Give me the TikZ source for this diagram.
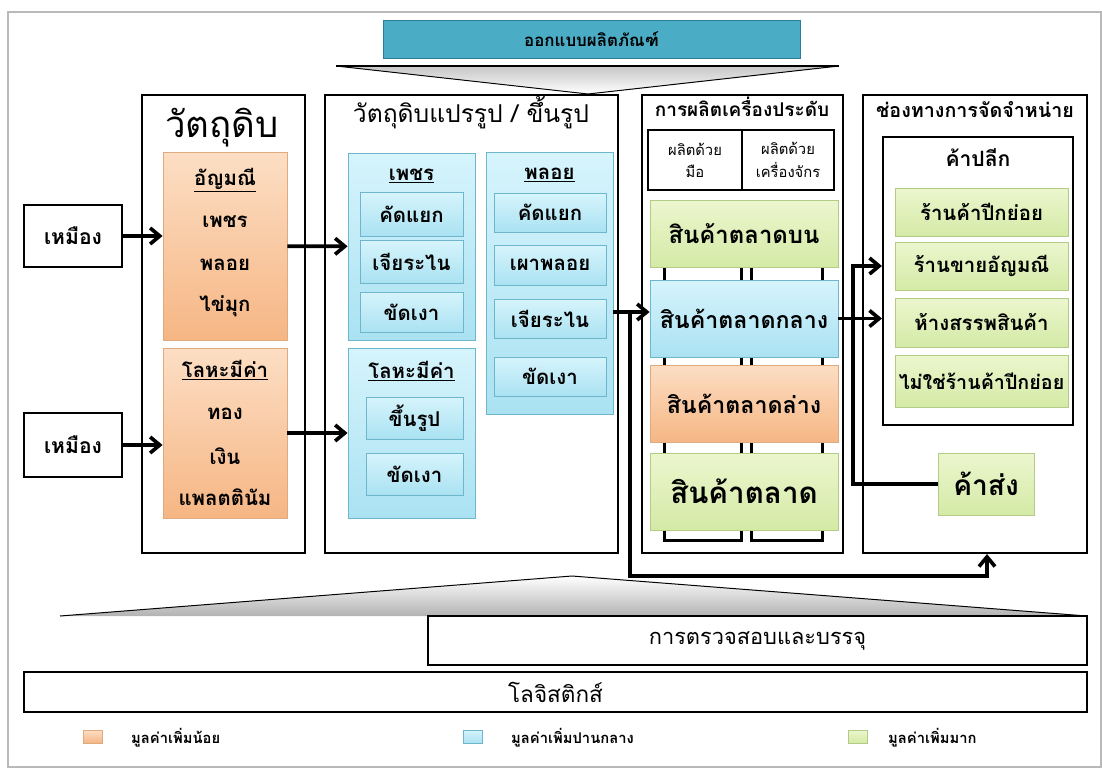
\documentclass[tikz,border=0pt]{standalone}
\usepackage{fontspec}
\setmainfont[Script=Thai]{Loma}
\usetikzlibrary{arrows.meta, calc, backgrounds}

\definecolor{tealfill}{RGB}{75,172,198}
\definecolor{tealline}{RGB}{45,125,150}
\definecolor{orgtop}{RGB}{252,222,196}
\definecolor{orgbot}{RGB}{246,182,132}
\definecolor{orgline}{RGB}{222,170,128}
\definecolor{blutop}{RGB}{214,244,252}
\definecolor{blubot}{RGB}{170,226,242}
\definecolor{bluline}{RGB}{110,182,204}
\definecolor{grntop}{RGB}{236,246,206}
\definecolor{grnbot}{RGB}{212,234,166}
\definecolor{grnline}{RGB}{178,204,136}

\newcommand{\fs}[1]{\fontsize{#1}{#1}\selectfont}

\begin{document}
\begin{tikzpicture}[x=0.025cm, y=-0.025cm, >={Straight Barb[length=2.4mm, width=4mm]}, line width=0.7pt,
  sz/.style 2 args={minimum width=#1*0.025cm, minimum height=#2*0.025cm, inner sep=0pt},
  col/.style={draw, line width=1.5pt},
  plain/.style={draw, line width=1.5pt, fill=white, font=\bfseries\fs{15}},
  org/.style={draw=orgline, top color=orgtop, bottom color=orgbot, line width=0.6pt},
  blu/.style={draw=bluline, top color=blutop, bottom color=blubot, line width=0.6pt},
  grn/.style={draw=grnline, top color=grntop, bottom color=grnbot, line width=0.6pt},
  item/.style={font=\bfseries\fs{14.5}},
  conn/.style={->, line width=2.6pt},
  link/.style={line width=2.4pt}]
  \useasboundingbox (0,0) rectangle (1102,769);
  \draw[gray!55, line width=1pt] (8,12) rectangle (1101,767);

  % design wedge
  \node[sz={417}{38}, fill=tealfill, draw=tealline, font=\bfseries\fs{12}] (design) at (591.5,39) {ออกแบบผลิตภัณฑ์};
  \shade[top color=gray!45, bottom color=white] (336,66) -- (839,66) -- (588,94) -- cycle;
  \draw (336,66) -- (588,94) -- (839,66);
  \draw[line width=1.4pt] (336,66) -- (839,66);

  % columns
  \node[col, sz={163}{458}] (c1) at (223.5,324) {};
  \node[col, sz={293}{458}] (c2) at (471.5,324) {};
  \node[col, sz={201}{458}] (c3) at (742.5,324) {};
  \node[col, sz={224}{458}] (c4) at (975,324) {};
  \node[font=\fs{26}] (c1t) at (222,128) {วัตถุดิบ};
  \node[font=\fs{17.5}] (c2t) at (471,113) {วัตถุดิบแปรรูป / ขึ้นรูป};
  \node[font=\bfseries\fs{13.5}] (c3t) at (742,107) {การผลิตเครื่องประดับ};
  \node[font=\bfseries\fs{14}] (c4t) at (975,110) {ช่องทางการจัดจำหน่าย};

  % raw material
  \node[plain, sz={98}{62}] (m1) at (73,236) {เหมือง};
  \node[plain, sz={98}{64}] (m2) at (73,445) {เหมือง};
  \node[org, sz={124}{188}] (g1) at (225,246) {};
  \node[org, sz={124}{170}] (g2) at (225,433) {};
  \node[item] (g1t) at (225,180) {\underline{อัญมณี}};
  \node[item] (g1a) at (225,222) {เพชร};
  \node[item] (g1b) at (225,265) {พลอย};
  \node[item] (g1c) at (225,306) {ไข่มุก};
  \node[item] (g2t) at (225,370) {\underline{โลหะมีค่า}};
  \node[item] (g2a) at (225,414) {ทอง};
  \node[item] (g2b) at (225,456) {เงิน};
  \node[item] (g2c) at (225,497) {แพลตตินัม};

  % processing
  \node[blu, sz={127}{187}] (p1) at (411.5,246.5) {};
  \node[item] (p1t) at (411.5,176) {\underline{เพชร}};
  \node[blu, item, sz={103}{44}] (p1a) at (411.5,214) {คัดแยก};
  \node[blu, item, sz={103}{43}] (p1b) at (411.5,261.5) {เจียระไน};
  \node[blu, item, sz={103}{40}] (p1c) at (411.5,312) {ขัดเงา};
  \node[blu, sz={127}{170}] (p2) at (411.5,433) {};
  \node[item] (p2t) at (411.5,371) {\underline{โลหะมีค่า}};
  \node[blu, item, sz={97}{42}] (p2a) at (414.5,418) {ขึ้นรูป};
  \node[blu, item, sz={97}{42}] (p2b) at (414.5,474) {ขัดเงา};
  \node[blu, sz={127}{262}] (p3) at (549.5,283) {};
  \node[item] (p3t) at (549.5,175) {\underline{พลอย}};
  \node[blu, item, sz={112}{39}] (p3a) at (550,212.5) {คัดแยก};
  \node[blu, item, sz={112}{40}] (p3b) at (550,265) {เผาพลอย};
  \node[blu, item, sz={112}{39}] (p3c) at (550,318.5) {เจียระไน};
  \node[blu, item, sz={112}{39}] (p3d) at (550,376.5) {ขัดเงา};

  % production
  \node[draw, line width=1.5pt, sz={94}{60}, align=center, font=\fs{10.5}] (h1) at (695,160) {ผลิตด้วย\\[5pt]มือ};
  \node[draw, line width=1.5pt, sz={92}{60}, align=center, font=\fs{10.5}] (h2) at (788,160) {ผลิตด้วย\\[5pt]เครื่องจักร};
  \node[grn, sz={188}{67}, font=\bfseries\fs{17}] (s1) at (744,233.5) {สินค้าตลาดบน};
  \node[blu, sz={188}{77}, font=\bfseries\fs{16.5}] (s2) at (744,318.5) {สินค้าตลาดกลาง};
  \node[org, sz={188}{77}, font=\bfseries\fs{16.5}] (s3) at (744,403.5) {สินค้าตลาดล่าง};
  \node[grn, sz={188}{77}, font=\bfseries\fs{21}] (s4) at (744,491.5) {สินค้าตลาด};
  \begin{scope}[on background layer]
    \draw[link] ($(s1.south west)+(15,0)$) |- ($(s4.south west)+(92,10)$) -- ($(s1.south west)+(92,0)$);
    \draw[link] ($(s1.south west)+(102,0)$) |- ($(s4.south west)+(173,10)$) -- ($(s1.south west)+(173,0)$);
  \end{scope}

  % distribution
  \node[draw, line width=1.5pt, sz={190}{288}] (r0) at (978,281) {};
  \node[font=\bfseries\fs{15}] (r0t) at (978,158) {ค้าปลีก};
  \node[grn, item, sz={173}{48}] (r1) at (981.5,212) {ร้านค้าปีกย่อย};
  \node[grn, item, sz={173}{48}] (r2) at (981.5,266) {ร้านขายอัญมณี};
  \node[grn, item, sz={173}{49}] (r3) at (981.5,322.5) {ห้างสรรพสินค้า};
  \node[grn, font=\bfseries\fs{14}, sz={173}{52}] (r4) at (981.5,381) {ไม่ใช่ร้านค้าปีกย่อย};
  \node[grn, sz={96}{62}, font=\bfseries\fs{20}] (w1) at (986,484) {ค้าส่ง};

  % flows
  \coordinate (j1) at (630,312);
  \coordinate (j2) at (987,576);
  \coordinate (j3) at (853,0);
  \draw[conn] (m1) -- (m1 -| g1.west);
  \draw[conn] (m2) -- (m2 -| g2.west);
  \draw[conn] (g1) -- (p1);
  \draw[conn] (g2) -- (p2);
  \draw[conn] (p3.east |- j1) -- (j1 -| s2.west);
  \draw[conn] (j1) |- (j2) -- (j2 |- c4.south);
  \draw[conn] (s2) -- (s2 -| r0.west);
  \draw[conn] (w1.west) -- (w1.west -| j3) -- (j3 |- r2) -- (r2 -| r0.west);

  % support activities
  \shade[top color=white, bottom color=gray!60] (60,616) -- (572,576) -- (1087,616) -- cycle;
  \draw (60,616) -- (572,576) -- (1087,616);
  \node[draw, line width=1.5pt, sz={659}{49}, font=\fs{15.5}] (ck) at (757.5,640.5) {การตรวจสอบและบรรจุ};
  \node[draw, line width=1.5pt, sz={1063}{40}, font=\fs{16}] (lg) at (555.5,692) {โลจิสติกส์};

  % legend
  \node[org, sz={19}{13}] (k1) at (92.5,736.5) {};
  \node[blu, sz={19}{13}] (k2) at (472.5,736.5) {};
  \node[grn, sz={19}{13}] (k3) at (857.5,736.5) {};
  \node[anchor=west, font=\bfseries\fs{10.5}] (k1t) at (126,738) {มูลค่าเพิ่มน้อย};
  \node[anchor=west, font=\bfseries\fs{10.5}] (k2t) at (506,738) {มูลค่าเพิ่มปานกลาง};
  \node[anchor=west, font=\bfseries\fs{10.5}] (k3t) at (883,738) {มูลค่าเพิ่มมาก};
\end{tikzpicture}
\end{document}
